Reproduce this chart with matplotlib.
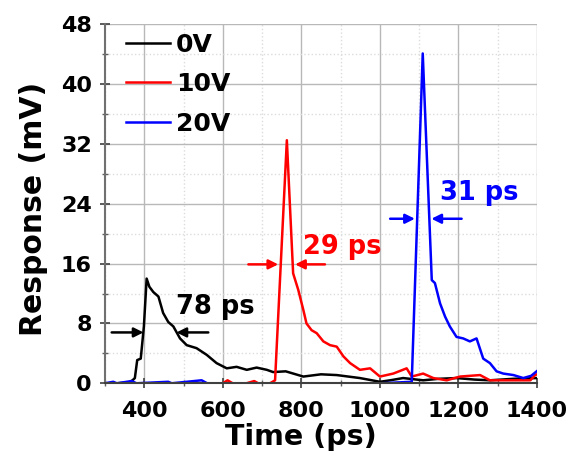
import numpy as np
import matplotlib
matplotlib.use("Agg")
import matplotlib.pyplot as plt
from matplotlib.ticker import MultipleLocator

# Photoresponse traces (time in ps, response in mV) for three bias voltages
t_0v = [300, 330, 360, 370, 376, 382, 391, 399, 406, 413, 423, 436, 448, 461, 474,
        491, 508, 533, 559, 584, 610, 635, 661, 686, 712, 728, 760, 805, 850, 890,
        949, 1000, 1026, 1059, 1110, 1150, 1195, 1240, 1280, 1340, 1400]
r_0v = [0, 0, 0.1, 0.4, 0.7, 3.1, 3.3, 7.6, 14.0, 12.9, 12.2, 11.6, 9.4, 8.2, 7.6,
        6.0, 5.1, 4.7, 3.8, 2.7, 2.0, 2.2, 1.8, 2.1, 1.8, 1.5, 1.6, 0.9, 1.2, 1.1,
        0.7, 0.2, 0.4, 0.7, 0.4, 0.6, 0.7, 0.5, 0.4, 0.6, 0.7]

t_10v = [600, 612, 625, 660, 680, 690, 720, 733, 763, 779, 792, 805, 813, 826, 839,
         856, 873, 890, 907, 924, 949, 975, 1000, 1034, 1068, 1081, 1110, 1136, 1170,
         1204, 1255, 1280, 1340, 1383, 1395, 1400]
r_10v = [0, 0.4, 0, 0, 0.3, 0, 0, 0.4, 32.5, 14.7, 12.5, 9.8, 8.0, 7.1, 6.7,
         5.6, 5.1, 4.9, 3.6, 2.7, 1.8, 2.0, 0.9, 1.3, 2.0, 0.9, 1.3, 0.7, 0.4,
         0.9, 1.1, 0.4, 0.4, 0.4, 1.1, 1.2]

t_20v = [300, 321, 330, 368, 380, 461, 470, 546, 560, 1000, 1081, 1109, 1132, 1140,
         1153, 1166, 1178, 1195, 1212, 1229, 1246, 1263, 1280, 1297, 1314, 1340, 1365,
         1385, 1399]
r_20v = [0, 0.2, 0, 0.3, 0, 0.2, 0, 0.4, 0, 0, 0.2, 44.1, 13.8, 13.4,
         10.7, 8.9, 7.6, 6.2, 6.0, 5.6, 6.0, 3.3, 2.7, 1.6, 1.3, 1.1, 0.7,
         1.0, 1.6]

series = [("0V", t_0v, r_0v, "black"),
          ("10V", t_10v, r_10v, "red"),
          ("20V", t_20v, r_20v, "blue")]

# FWHM markers: (label, colour, height, left arrow start/end, right arrow start/end, text x, text y)
fwhm = [("78 ps", "black", 6.8, (317, 398), (563, 482), 480, 10.2),
        ("29 ps", "red", 15.9, (665, 741), (860, 784), 804, 18.2),
        ("31 ps", "blue", 22.0, (1026, 1089), (1208, 1131), 1153, 25.4)]

plt.rcParams["font.weight"] = "bold"
plt.rcParams["axes.labelweight"] = "bold"

fig = plt.figure(figsize=(5.85, 4.55), dpi=100)
ax = fig.add_axes([0.1795, 0.1576, 0.7385, 0.789])

for name, t, r, c in series:
    ax.plot(t, r, color=c, lw=1.8, label=name)

for text, c, h, (l0, l1), (r0, r1), tx, ty in fwhm:
    arrow = dict(arrowstyle="-|>", color=c, lw=1.8, mutation_scale=14,
                 shrinkA=0, shrinkB=0)
    ax.annotate("", xy=(l1, h), xytext=(l0, h), arrowprops=arrow)
    ax.annotate("", xy=(r1, h), xytext=(r0, h), arrowprops=arrow)
    ax.text(tx, ty, text, color=c, fontsize=18.5, fontweight="bold",
            va="center", ha="left")

ax.set_xlim(300, 1400)
ax.set_ylim(0, 48)
ax.xaxis.set_major_locator(MultipleLocator(200))
ax.xaxis.set_minor_locator(MultipleLocator(100))
ax.yaxis.set_major_locator(MultipleLocator(8))
ax.yaxis.set_minor_locator(MultipleLocator(4))
ax.set_xticks([400, 600, 800, 1000, 1200, 1400])

ax.grid(True, which="major", color="#b8b8b8", lw=1.0, ls="-")
ax.grid(True, which="minor", color="#dcdcdc", lw=1.0, ls=":")
ax.set_axisbelow(True)

ax.spines["top"].set_visible(False)
ax.spines["right"].set_visible(False)
ax.spines["left"].set_color("#707070")
ax.spines["left"].set_linewidth(1.5)
ax.spines["bottom"].set_color("#404040")
ax.spines["bottom"].set_linewidth(1.5)

ax.tick_params(which="major", direction="inout", length=7, width=1.2,
               colors="#404040", labelcolor="black", labelsize=16, pad=6)
ax.tick_params(which="minor", direction="inout", length=4, width=1.0,
               colors="#606060")
ax.tick_params(axis="x", which="major", labelsize=16, pad=9)

ax.set_xlabel("Time (ps)", fontsize=20.5, fontweight="bold")
ax.set_ylabel("Response (mV)", fontsize=21.5, fontweight="bold")
ax.xaxis.set_label_coords(0.454, -0.112)
ax.yaxis.set_label_coords(-0.133, 0.486)

leg = ax.legend(loc="upper left", bbox_to_anchor=(0.025, 1.005), frameon=False,
                fontsize=18, handlelength=1.75, handletextpad=0.25,
                labelspacing=0.62, borderaxespad=0)
for h in leg.get_lines():
    h.set_linewidth(1.8)

fig.savefig("out.png", dpi=100)
